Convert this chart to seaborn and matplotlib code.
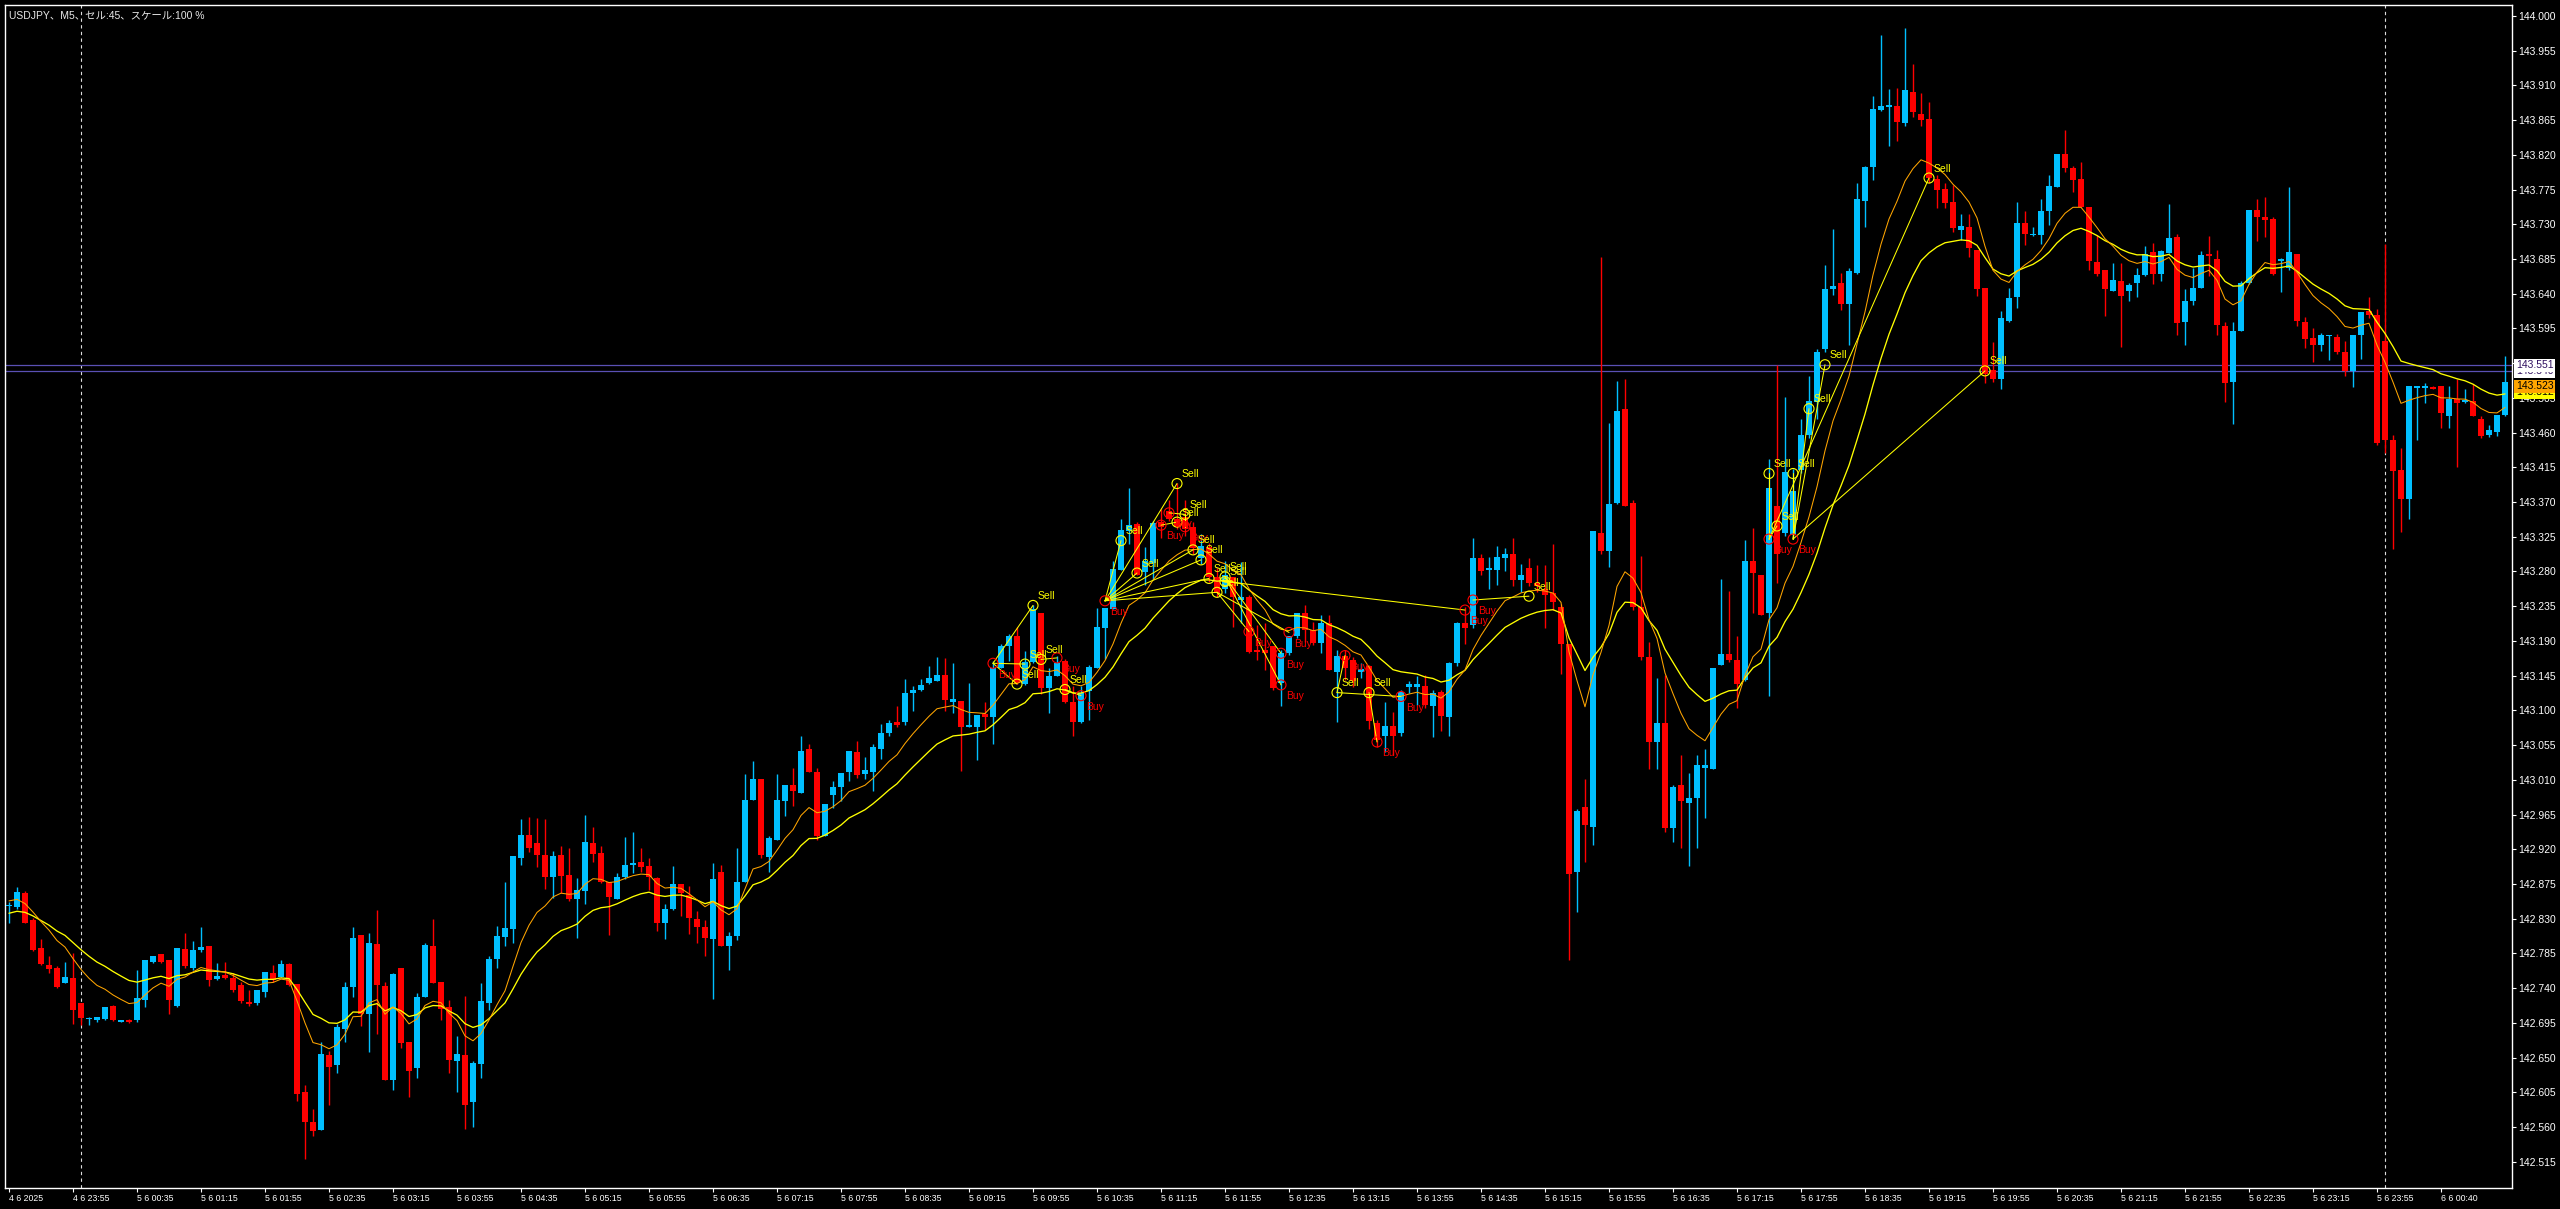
import numpy as np
import matplotlib
matplotlib.use("Agg")
import matplotlib.pyplot as plt
import seaborn as sns

# ------------------------------
# Data (USDJPY M5)
# ------------------------------
opens = [
    142.847, 142.845, 142.863, 142.828, 142.792, 142.770, 142.766, 142.747, 142.753, 142.721,
    142.700, 142.699, 142.700, 142.717, 142.696, 142.698, 142.698, 142.724, 142.774, 142.784,
    142.777, 142.717, 142.791, 142.766, 142.789, 142.794, 142.752, 142.757, 142.753, 142.744,
    142.722, 142.721, 142.735, 142.759, 142.755, 142.771, 142.745, 142.605, 142.566, 142.556,
    142.653, 142.640, 142.687, 142.742, 142.809, 142.707, 142.797, 142.743, 142.621, 142.766,
    142.670, 142.636, 142.729, 142.795, 142.748, 142.716, 142.646, 142.653, 142.593, 142.642,
    142.721, 142.778, 142.806, 142.816, 142.909, 142.938, 142.928, 142.912, 142.884, 142.913,
    142.886, 142.855, 142.866, 142.928, 142.915, 142.878, 142.856, 142.884, 142.900, 142.903,
    142.898, 142.883, 142.824, 142.842, 142.875, 142.861, 142.830, 142.819, 142.804, 142.891,
    142.794, 142.807, 142.877, 142.984, 143.011, 142.910, 142.932, 142.983, 143.003, 142.993,
    143.050, 143.020, 142.937, 142.990, 143.001, 143.020, 143.046, 143.017, 143.020, 143.050,
    143.071, 143.085, 143.085, 143.122, 143.127, 143.135, 143.138, 143.146, 143.111, 143.112,
    143.078, 143.078, 143.095, 143.092, 143.155, 143.183, 143.196, 143.134, 143.163, 143.226,
    143.129, 143.145, 143.164, 143.111, 143.085, 143.125, 143.155, 143.207, 143.232, 143.282,
    143.333, 143.341, 143.279, 143.291, 143.344, 143.358, 143.348, 143.351, 143.338, 143.298,
    143.312, 143.273, 143.257, 143.273, 143.243, 143.247, 143.178, 143.178, 143.183, 143.135,
    143.174, 143.196, 143.226, 143.204, 143.187, 143.213, 143.150, 143.170, 143.165, 143.150,
    143.157, 143.084, 143.067, 143.080, 143.070, 143.130, 143.130, 143.132, 143.106, 143.124,
    143.092, 143.161, 143.213, 143.211, 143.297, 143.282, 143.282, 143.298, 143.303, 143.269,
    143.284, 143.265, 143.257, 143.252, 143.234, 143.186, 142.890, 142.975, 142.949, 143.330,
    143.307, 143.369, 143.490, 143.369, 143.234, 143.169, 143.059, 143.084, 142.947, 143.003,
    142.980, 142.986, 143.025, 143.024, 143.159, 143.173, 143.165, 143.139, 143.293, 143.276,
    143.226, 143.365, 143.330, 143.327, 143.411, 143.457, 143.500, 143.569, 143.646, 143.654,
    143.627, 143.667, 143.760, 143.804, 143.878, 143.882, 143.883, 143.861, 143.901, 143.873,
    143.866, 143.789, 143.776, 143.759, 143.723, 143.727, 143.697, 143.648, 143.541, 143.529,
    143.605, 143.636, 143.732, 143.716, 143.716, 143.747, 143.778, 143.821, 143.803, 143.789,
    143.753, 143.681, 143.671, 143.644, 143.657, 143.643, 143.654, 143.664, 143.694, 143.665,
    143.693, 143.713, 143.604, 143.630, 143.648, 143.691, 143.685, 143.598, 143.526, 143.592,
    143.654, 143.748, 143.739, 143.737, 143.682, 143.674, 143.691, 143.604, 143.583, 143.574,
    143.585, 143.584, 143.565, 143.540, 143.586, 143.617, 143.613, 143.579, 143.451, 143.411,
    143.374, 143.518, 143.518, 143.519, 143.520, 143.481, 143.504, 143.500, 143.501, 143.478,
    143.457, 143.461, 143.483,
]
highs = [
    142.852, 142.871, 142.866, 142.831, 142.803, 142.782, 142.768, 142.774, 142.785, 142.721,
    142.702, 142.702, 142.716, 142.718, 142.699, 142.700, 142.763, 142.776, 142.781, 142.784,
    142.777, 142.792, 142.812, 142.801, 142.819, 142.794, 142.773, 142.774, 142.759, 142.748,
    142.738, 142.737, 142.761, 142.770, 142.776, 142.772, 142.745, 142.614, 142.583, 142.670,
    142.659, 142.693, 142.748, 142.819, 142.809, 142.811, 142.841, 142.748, 142.759, 142.766,
    142.670, 142.734, 142.798, 142.830, 142.748, 142.725, 142.678, 142.730, 142.646, 142.747,
    142.782, 142.821, 142.877, 142.911, 142.959, 142.962, 142.961, 142.959, 142.918, 142.924,
    142.922, 142.883, 142.964, 142.949, 142.924, 142.878, 142.889, 142.936, 142.942, 142.921,
    142.908, 142.884, 142.849, 142.898, 142.875, 142.872, 142.840, 142.828, 142.902, 142.900,
    142.813, 142.922, 143.018, 143.034, 143.011, 142.937, 143.018, 143.003, 143.025, 143.067,
    143.057, 143.025, 142.978, 143.009, 143.019, 143.047, 143.060, 143.039, 143.057, 143.082,
    143.088, 143.106, 143.141, 143.132, 143.140, 143.158, 143.169, 143.168, 143.162, 143.112,
    143.136, 143.094, 143.111, 143.164, 143.186, 143.199, 143.208, 143.177, 143.237, 143.226,
    143.155, 143.171, 143.166, 143.132, 143.132, 143.159, 143.233, 143.233, 143.294, 143.348,
    143.388, 143.344, 143.312, 143.345, 143.361, 143.373, 143.395, 143.373, 143.344, 143.328,
    143.317, 143.284, 143.294, 143.273, 143.292, 143.250, 143.211, 143.213, 143.183, 143.178,
    143.196, 143.226, 143.237, 143.215, 143.224, 143.224, 143.178, 143.178, 143.169, 143.161,
    143.159, 143.088, 143.111, 143.098, 143.126, 143.138, 143.144, 143.146, 143.126, 143.126,
    143.163, 143.215, 143.234, 143.323, 143.303, 143.299, 143.313, 143.311, 143.323, 143.290,
    143.298, 143.288, 143.288, 143.316, 143.238, 143.186, 142.972, 143.011, 143.332, 143.688,
    143.473, 143.527, 143.529, 143.373, 143.300, 143.188, 143.142, 143.146, 143.003, 143.042,
    143.019, 143.042, 143.050, 143.155, 143.270, 143.255, 143.196, 143.321, 143.336, 143.276,
    143.426, 143.547, 143.506, 143.413, 143.478, 143.534, 143.569, 143.677, 143.724, 143.667,
    143.673, 143.784, 143.805, 143.896, 143.975, 143.906, 143.907, 143.985, 143.938, 143.900,
    143.888, 143.794, 143.783, 143.781, 143.744, 143.743, 143.697, 143.648, 143.577, 143.617,
    143.648, 143.759, 143.747, 143.726, 143.763, 143.794, 143.821, 143.852, 143.806, 143.811,
    143.753, 143.716, 143.671, 143.680, 143.680, 143.654, 143.674, 143.702, 143.706, 143.697,
    143.756, 143.717, 143.646, 143.674, 143.695, 143.715, 143.697, 143.603, 143.603, 143.657,
    143.748, 143.763, 143.765, 143.739, 143.686, 143.779, 143.691, 143.610, 143.595, 143.589,
    143.587, 143.588, 143.579, 143.587, 143.616, 143.636, 143.620, 143.704, 143.457, 143.440,
    143.520, 143.521, 143.524, 143.521, 143.520, 143.521, 143.530, 143.517, 143.523, 143.481,
    143.470, 143.483, 143.559,
]
lows = [
    142.824, 142.842, 142.824, 142.788, 142.770, 142.759, 142.740, 142.747, 142.693, 142.692,
    142.692, 142.696, 142.699, 142.697, 142.696, 142.695, 142.696, 142.715, 142.772, 142.773,
    142.707, 142.715, 142.766, 142.764, 142.787, 142.743, 142.750, 142.752, 142.735, 142.721,
    142.717, 142.718, 142.728, 142.748, 142.755, 142.743, 142.594, 142.518, 142.548, 142.556,
    142.589, 142.630, 142.670, 142.728, 142.691, 142.657, 142.680, 142.621, 142.608, 142.662,
    142.599, 142.623, 142.728, 142.747, 142.699, 142.630, 142.605, 142.558, 142.560, 142.623,
    142.711, 142.766, 142.794, 142.799, 142.899, 142.916, 142.897, 142.868, 142.857, 142.863,
    142.853, 142.805, 142.849, 142.903, 142.876, 142.809, 142.855, 142.882, 142.889, 142.891,
    142.867, 142.814, 142.803, 142.841, 142.833, 142.810, 142.798, 142.782, 142.726, 142.794,
    142.763, 142.802, 142.877, 142.984, 142.909, 142.891, 142.932, 142.963, 142.976, 142.993,
    143.020, 142.932, 142.937, 142.974, 142.983, 143.009, 143.012, 143.011, 142.995, 143.037,
    143.067, 143.078, 143.081, 143.099, 143.125, 143.134, 143.138, 143.099, 143.097, 143.021,
    143.078, 143.035, 143.074, 143.056, 143.155, 143.164, 143.134, 143.133, 143.162, 143.121,
    143.097, 143.145, 143.109, 143.067, 143.084, 143.088, 143.155, 143.166, 143.232, 143.282,
    143.316, 143.275, 143.262, 143.270, 143.324, 143.345, 143.335, 143.326, 143.303, 143.290,
    143.266, 143.247, 143.252, 143.208, 143.213, 143.174, 143.165, 143.152, 143.127, 143.105,
    143.172, 143.194, 143.189, 143.185, 143.174, 143.152, 143.085, 143.139, 143.130, 143.142,
    143.076, 143.053, 143.046, 143.042, 143.067, 143.123, 143.107, 143.103, 143.065, 143.073,
    143.067, 143.157, 143.186, 143.207, 143.276, 143.257, 143.263, 143.280, 143.261, 143.253,
    143.261, 143.253, 143.207, 143.230, 143.147, 142.776, 142.838, 142.903, 142.925, 143.303,
    143.286, 143.367, 143.365, 143.230, 143.165, 143.024, 143.024, 142.942, 142.930, 142.922,
    142.898, 142.921, 142.961, 143.024, 143.159, 143.163, 143.103, 143.138, 143.226, 143.223,
    143.119, 143.265, 143.326, 143.323, 143.407, 143.453, 143.477, 143.565, 143.638, 143.619,
    143.573, 143.665, 143.727, 143.788, 143.877, 143.831, 143.838, 143.857, 143.869, 143.857,
    143.783, 143.751, 143.751, 143.720, 143.710, 143.687, 143.637, 143.524, 143.526, 143.516,
    143.604, 143.622, 143.703, 143.715, 143.704, 143.729, 143.778, 143.798, 143.772, 143.752,
    143.671, 143.663, 143.611, 143.643, 143.571, 143.631, 143.636, 143.663, 143.653, 143.656,
    143.693, 143.587, 143.573, 143.626, 143.647, 143.663, 143.587, 143.500, 143.471, 143.592,
    143.653, 143.708, 143.713, 143.664, 143.642, 143.671, 143.598, 143.570, 143.551, 143.566,
    143.554, 143.562, 143.533, 143.519, 143.556, 143.609, 143.444, 143.433, 143.309, 143.331,
    143.348, 143.450, 143.499, 143.516, 143.466, 143.466, 143.416, 143.499, 143.481, 143.453,
    143.454, 143.455, 143.481,
]
closes = [
    142.848, 142.864, 142.825, 142.789, 142.771, 142.765, 142.741, 142.755, 142.711, 142.701,
    142.701, 142.702, 142.716, 142.698, 142.699, 142.696, 142.727, 142.776, 142.781, 142.774,
    142.724, 142.792, 142.768, 142.790, 142.793, 142.751, 142.756, 142.753, 142.737, 142.723,
    142.719, 142.737, 142.761, 142.751, 142.771, 142.744, 142.603, 142.566, 142.555, 142.654,
    142.638, 142.689, 142.742, 142.805, 142.706, 142.799, 142.744, 142.621, 142.758, 142.669,
    142.633, 142.729, 142.796, 142.747, 142.713, 142.647, 142.654, 142.589, 142.643, 142.723,
    142.778, 142.807, 142.818, 142.911, 142.938, 142.922, 142.913, 142.884, 142.911, 142.885,
    142.855, 142.867, 142.929, 142.914, 142.877, 142.858, 142.884, 142.900, 142.902, 142.897,
    142.884, 142.824, 142.843, 142.875, 142.863, 142.831, 142.819, 142.805, 142.881, 142.794,
    142.807, 142.877, 142.984, 143.011, 142.912, 142.934, 142.984, 143.003, 142.996, 143.047,
    143.020, 142.937, 142.978, 143.001, 143.019, 143.047, 143.016, 143.023, 143.052, 143.071,
    143.084, 143.081, 143.123, 143.127, 143.133, 143.142, 143.146, 143.114, 143.115, 143.078,
    143.081, 143.094, 143.092, 143.155, 143.183, 143.197, 143.136, 143.163, 143.231, 143.129,
    143.145, 143.162, 143.111, 143.085, 143.122, 143.156, 143.208, 143.233, 143.283, 143.334,
    143.340, 143.275, 143.294, 143.343, 143.338, 143.348, 143.338, 143.335, 143.311, 143.313,
    143.273, 143.252, 143.275, 143.247, 143.247, 143.176, 143.176, 143.174, 143.129, 143.174,
    143.196, 143.226, 143.204, 143.187, 143.213, 143.152, 143.170, 143.155, 143.138, 143.153,
    143.086, 143.061, 143.080, 143.067, 143.124, 143.134, 143.134, 143.107, 143.123, 143.093,
    143.161, 143.213, 143.207, 143.297, 143.280, 143.284, 143.299, 143.303, 143.269, 143.276,
    143.265, 143.261, 143.250, 143.240, 143.186, 142.888, 142.970, 142.952, 143.332, 143.307,
    143.367, 143.488, 143.365, 143.234, 143.169, 143.059, 143.084, 142.947, 143.001, 142.982,
    142.986, 143.029, 143.029, 143.155, 143.173, 143.165, 143.134, 143.293, 143.278, 143.224,
    143.388, 143.303, 143.409, 143.384, 143.457, 143.501, 143.565, 143.646, 143.650, 143.627,
    143.669, 143.763, 143.804, 143.880, 143.883, 143.884, 143.863, 143.904, 143.875, 143.865,
    143.790, 143.774, 143.757, 143.725, 143.728, 143.699, 143.646, 143.536, 143.530, 143.608,
    143.635, 143.732, 143.717, 143.717, 143.747, 143.780, 143.821, 143.803, 143.787, 143.752,
    143.682, 143.665, 143.646, 143.658, 143.637, 143.651, 143.664, 143.692, 143.665, 143.695,
    143.712, 143.602, 143.630, 143.647, 143.690, 143.689, 143.599, 143.524, 143.592, 143.654,
    143.748, 143.740, 143.736, 143.665, 143.685, 143.694, 143.605, 143.581, 143.573, 143.586,
    143.587, 143.564, 143.540, 143.586, 143.616, 143.613, 143.446, 143.451, 143.410, 143.374,
    143.520, 143.520, 143.520, 143.517, 143.485, 143.504, 143.498, 143.502, 143.481, 143.455,
    143.463, 143.483, 143.525,
]

# moving averages (EMA 10 orange, EMA 20 yellow) and their values at the first bar
ema_fast_period = 10
ema_slow_period = 20
ema_fast_start = 142.853
ema_slow_start = 142.837

# trades: buy point -> sell point
trade_buy_bar = [123, 123, 123, 131, 134, 137, 137, 137, 137, 137, 137, 137, 144, 145, 147,
                 155, 159, 159, 160, 182, 183, 167, 171, 174, 220, 220, 223, 223, 223, 220, 223]
trade_buy_price = [143.161, 143.161, 143.161, 143.168, 143.119, 143.242, 143.242, 143.242,
                   143.242, 143.242, 143.242, 143.242, 143.340, 143.356, 143.338, 143.202,
                   143.174, 143.133, 143.201, 143.230, 143.243, 143.171, 143.059, 143.118,
                   143.322, 143.322, 143.322, 143.322, 143.322, 143.322, 143.322]
trade_sell_bar = [128, 126, 127, 129, 132, 139, 141, 146, 148, 149, 150, 151, 146, 147, 147,
                  151, 152, 152, 151, 152, 190, 166, 170, 166, 220, 221, 223, 225, 227, 240, 247]
trade_sell_price = [143.236, 143.134, 143.160, 143.166, 143.127, 143.320, 143.278, 143.394,
                    143.308, 143.295, 143.271, 143.253, 143.344, 143.354, 143.354, 143.253,
                    143.273, 143.273, 143.253, 143.267, 143.248, 143.123, 143.123, 143.123,
                    143.407, 143.339, 143.407, 143.491, 143.548, 143.790, 143.540]

# axis labels
x_tick_bars = list(range(0, 305, 8))
x_tick_labels = ["4 6 2025", "4 6 23:55",
                 "5 6 00:35", "5 6 01:15", "5 6 01:55", "5 6 02:35", "5 6 03:15", "5 6 03:55",
                 "5 6 04:35", "5 6 05:15", "5 6 05:55", "5 6 06:35", "5 6 07:15", "5 6 07:55",
                 "5 6 08:35", "5 6 09:15", "5 6 09:55", "5 6 10:35", "5 6 11:15", "5 6 11:55",
                 "5 6 12:35", "5 6 13:15", "5 6 13:55", "5 6 14:35", "5 6 15:15", "5 6 15:55",
                 "5 6 16:35", "5 6 17:15", "5 6 17:55", "5 6 18:35", "5 6 19:15", "5 6 19:55",
                 "5 6 20:35", "5 6 21:15", "5 6 21:55", "5 6 22:35", "5 6 23:15",
                 "5 6 23:55", "6 6 00:40"]
y_ticks = [142.515, 142.560, 142.605, 142.650, 142.695, 142.740, 142.785, 142.830, 142.875,
           142.920, 142.965, 143.010, 143.055, 143.100, 143.145, 143.190, 143.235, 143.280,
           143.325, 143.370, 143.415, 143.460, 143.505, 143.550, 143.595, 143.640, 143.685,
           143.730, 143.775, 143.820, 143.865, 143.910, 143.955, 144.000]
day_separator_bars = [9, 297]
ask_line, bid_line = 143.547, 143.540
title = "USDJPY、M5、セル:45、スケール:100 %"

# ------------------------------
# Style
# ------------------------------
sns.set_theme(style="dark", rc={"axes.facecolor": "black", "figure.facecolor": "black",
                                "axes.edgecolor": "white", "axes.grid": False})
plt.rcParams['font.family'] = ['Liberation Sans', 'Noto Sans CJK JP', 'DejaVu Sans']

BULL = "#00BFFF"
BEAR = "#FF0000"

W, H = 2560, 1209
fig = plt.figure(figsize=(W / 100, H / 100), dpi=100, facecolor="black")
ax = fig.add_axes([5 / W, (H - 1188) / H, (2512 - 5) / W, (1188 - 5) / H])
ax.set_facecolor("black")

n = len(closes)
bars = np.arange(n)
o = np.array(opens); h = np.array(highs); l = np.array(lows); c = np.array(closes)
up = c >= o
colors = np.where(up, BULL, BEAR)

# wicks and bodies
ax.vlines(bars, l, h, colors=colors, linewidth=1.0, zorder=2)
body_low = np.minimum(o, c)
body_h = np.maximum(np.abs(c - o), 0.0013)
ax.bar(bars, body_h, bottom=body_low, width=0.7, color=colors, linewidth=0, zorder=3)

# moving averages
def ema(values, period, start):
    a = 2.0 / (period + 1)
    out = [start]
    for v in values[1:]:
        out.append(out[-1] + a * (v - out[-1]))
    return np.array(out)

ema_fast = ema(closes, ema_fast_period, ema_fast_start)
ema_slow = ema(closes, ema_slow_period, ema_slow_start)
sns.lineplot(x=bars, y=ema_slow, color="#FFFF00", linewidth=0.95, ax=ax, zorder=4)
sns.lineplot(x=bars, y=ema_fast, color="#FFA500", linewidth=0.75, ax=ax, zorder=4)

# day separators and price lines
for b in day_separator_bars:
    ax.axvline(b, color="#DDDDDD", linewidth=0.8, linestyle=(0, (3, 3)), zorder=1)
ax.axhline(ask_line, color="#5A50B4", linewidth=0.9, zorder=1)
ax.axhline(bid_line, color="#5A50B4", linewidth=0.9, zorder=1)

# trades
for bb, bp, sb, sp in zip(trade_buy_bar, trade_buy_price, trade_sell_bar, trade_sell_price):
    ax.plot([bb, sb], [bp, sp], color="#FFFF00", linewidth=0.75, zorder=5)
buys = sorted(set(zip(trade_buy_bar, trade_buy_price)))
sells = sorted(set(zip(trade_sell_bar, trade_sell_price)))
ax.scatter([b for b, _ in buys], [p for _, p in buys], s=52, facecolors="none",
           edgecolors=BEAR, linewidths=0.8, zorder=6)
ax.scatter([b for b, _ in sells], [p for _, p in sells], s=52, facecolors="none",
           edgecolors="#FFFF00", linewidths=0.8, zorder=6)
for b, p in buys:
    ax.annotate("Buy", (b, p), xytext=(4, -4.5), textcoords="offset points", ha="left",
                va="top", color=BEAR, fontsize=7.5, zorder=7)
for b, p in sells:
    ax.annotate("Sell", (b, p), xytext=(3.6, 3.2), textcoords="offset points", ha="left",
                va="bottom", color="#FFFF00", fontsize=7.5, zorder=7)

# axes
ax.set_xlim(-0.5, 312.875)
ax.set_ylim(144 - (1188 - 16) / 771.5, 144 + 11 / 771.5)
for s in ax.spines.values():
    s.set_color("white")
    s.set_linewidth(1.0)
ax.yaxis.tick_right()
ax.set_yticks(y_ticks)
ax.set_yticklabels([f"{v:.3f}" for v in y_ticks])
ax.set_xticks(x_tick_bars)
ax.set_xticklabels(x_tick_labels)
ax.tick_params(axis="y", colors="white", labelcolor="white", labelsize=7.5, length=3,
               width=0.8, pad=1.5, direction="out", right=True, left=False)
ax.tick_params(axis="x", colors="white", labelcolor="white", labelsize=6.3, length=3,
               width=0.8, pad=1.5, direction="out", bottom=True)
for t in ax.get_xticklabels():
    t.set_ha("left")

# price boxes on the right
ytr = ax.get_yaxis_transform()
ax.text(1.0015, bid_line, "143.540", transform=ytr, fontsize=7.5, color="#301060", va="center",
        ha="left", bbox=dict(facecolor="white", edgecolor="none", pad=1.2), clip_on=False)
ax.text(1.0015, ask_line, "143.551", transform=ytr, fontsize=7.5, color="#301060", va="center",
        ha="left", bbox=dict(facecolor="white", edgecolor="none", pad=1.2), clip_on=False)
ax.text(1.0015, 143.512, "143.512", transform=ytr, fontsize=7.5, color="black", va="center",
        ha="left", bbox=dict(facecolor="#FFFF00", edgecolor="none", pad=1.2), clip_on=False)
ax.text(1.0015, 143.520, "143.523", transform=ytr, fontsize=7.5, color="black", va="center",
        ha="left", bbox=dict(facecolor="#FFA500", edgecolor="none", pad=1.2), clip_on=False)

ax.set_xlabel("")
ax.set_ylabel("")
fig.text(9 / W, 1 - 15 / H, title, color="#E8E8E8", fontsize=7.5, va="center", ha="left")

fig.savefig("out.png", dpi=100, facecolor="black")
